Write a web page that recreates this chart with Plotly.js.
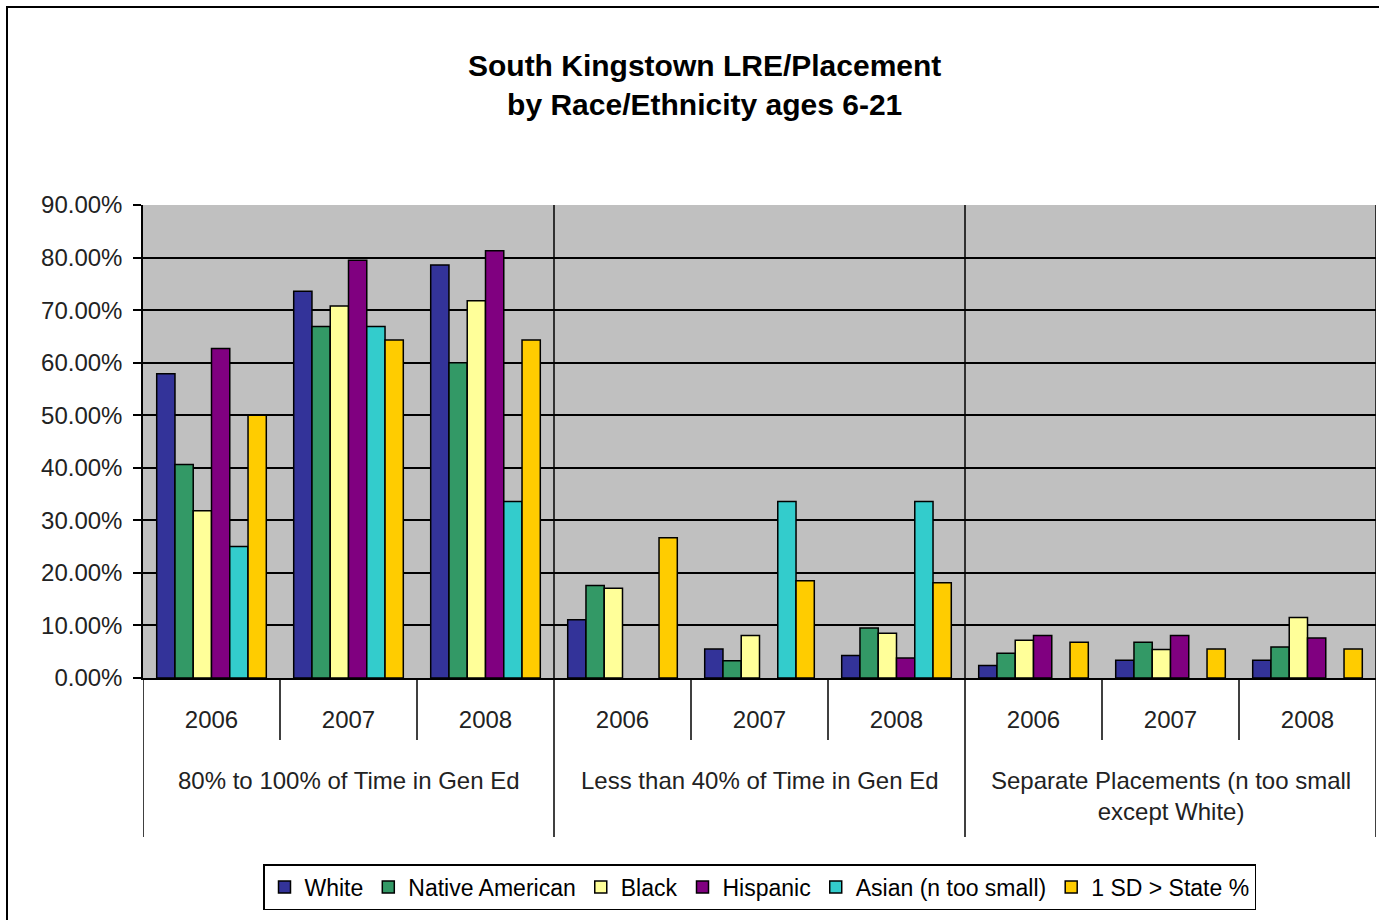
<!DOCTYPE html>
<html>
<head>
<meta charset="utf-8">
<script src="https://cdn.plot.ly/plotly-3.0.1.min.js"></script>
<style>
  html, body { margin: 0; padding: 0; background: #ffffff; }
  #chart { width: 1379px; height: 920px; }
</style>
</head>
<body>
<div id="chart"></div>
<script>
// ---- Data ----
const groups = [
  "80% to 100% of Time in Gen Ed",
  "Less than 40% of Time in Gen Ed",
  "Separate Placements (n too small<br>except White)"
];
const years = ["2006", "2007", "2008"];

const seriesNames = ["White", "Native American", "Black", "Hispanic", "Asian (n too small)", "1 SD > State %"];
const seriesColors = ["#333399", "#339966", "#FFFF99", "#800080", "#33CCCC", "#FFCC00"];

// values as fractions, ordered group-by-group, year-by-year
const white          = [0.579, 0.736, 0.786,  0.111, 0.055, 0.043,  0.024, 0.034, 0.034];
const nativeAmerican = [0.406, 0.669, 0.600,  0.176, 0.033, 0.095,  0.047, 0.068, 0.059];
const black          = [0.318, 0.708, 0.718,  0.171, 0.081, 0.085,  0.072, 0.054, 0.115];
const hispanic       = [0.627, 0.795, 0.813,  null,  null,  0.038,  0.081, 0.081, 0.076];
const asian          = [0.250, 0.669, 0.336,  null,  0.336, 0.336,  null,  null,  null ];
const stateSD        = [0.500, 0.643, 0.643,  0.267, 0.185, 0.181,  0.068, 0.055, 0.055];

const seriesValues = [white, nativeAmerican, black, hispanic, asian, stateSD];

const yTickVals = [0, 0.1, 0.2, 0.3, 0.4, 0.5, 0.6, 0.7, 0.8, 0.9];

// ---- Build ----
const FONT = "Liberation Sans, Arial, sans-serif";
const nCat = groups.length * years.length;
const xIdx = [];
const xTickText = [];
groups.forEach((g, gi) => years.forEach((y, yi) => { xIdx.push(gi * years.length + yi); xTickText.push(y); }));

const traces = seriesNames.map((name, i) => ({
  type: "bar",
  name: name,
  x: xIdx,
  y: seriesValues[i],
  marker: { color: seriesColors[i], line: { color: "#000000", width: 1.5 } },
  hovertemplate: "%{y:.2%}<extra>" + name + "</extra>"
}));

const shapes = [];
// full-height separators between groups inside plot area
for (let gi = 1; gi <= groups.length; gi++) {
  shapes.push({ type: "line", xref: "x", yref: "paper", x0: gi * years.length - 0.5, x1: gi * years.length - 0.5,
                y0: 0, y1: 1, line: { color: "#000000", width: 1.5 }, layer: "below" });
}
// long dividers below axis at group boundaries
for (let gi = 0; gi <= groups.length; gi++) {
  const xb = gi * years.length - 0.5;
  shapes.push({ type: "line", xref: "x", yref: "paper", x0: xb, x1: xb, y0: 0, y1: -0.336,
                line: { color: "#000000", width: 1.5 } });
}
// short dividers between years
groups.forEach((g, gi) => {
  for (let yi = 1; yi < years.length; yi++) {
    const xb = gi * years.length + yi - 0.5;
    shapes.push({ type: "line", xref: "x", yref: "paper", x0: xb, x1: xb, y0: 0, y1: -0.131,
                  line: { color: "#000000", width: 1.5 } });
  }
});
// outer chart frame
shapes.push({ type: "rect", xref: "paper", yref: "paper", x0: -0.1103, x1: 1.2, y0: -1, y1: 1.4186,
              line: { color: "#000000", width: 2 }, fillcolor: "rgba(0,0,0,0)" });

const annotations = groups.map((g, gi) => ({
  xref: "x", yref: "paper", x: gi * years.length + (years.length - 1) / 2, y: -0.183,
  yanchor: "top", xanchor: "center", showarrow: false, text: g,
  font: { family: FONT, size: 24, color: "#222222" }
}));

const layout = {
  width: 1379, height: 920, autosize: false,
  paper_bgcolor: "#ffffff", plot_bgcolor: "#C0C0C0",
  margin: { l: 143, r: 3, t: 205, b: 242 },
  title: {
    text: "<b>South Kingstown LRE/Placement<br>by Race/Ethnicity ages 6-21</b>",
    font: { family: FONT, size: 30, color: "#000000" },
    x: 0.511, xref: "container", xanchor: "center",
    y: 0.917, yref: "container", yanchor: "middle"
  },
  barmode: "group", bargap: 0.2, bargroupgap: 0,
  xaxis: {
    type: "linear", range: [-0.5, nCat - 0.5],
    tickmode: "array", tickvals: xIdx, ticktext: xTickText,
    ticks: "outside", ticklen: 19, tickcolor: "rgba(0,0,0,0)",
    tickfont: { family: FONT, size: 24, color: "#222222" },
    showgrid: false, zeroline: false, showline: true, linecolor: "#000000", linewidth: 1.5,
    fixedrange: true
  },
  yaxis: {
    range: [0, 0.9], tickmode: "array", tickvals: yTickVals, tickformat: ".2%",
    ticks: "outside", ticklen: 8, tickcolor: "#000000", tickwidth: 1.5,
    ticklabelstandoff: 6,
    tickfont: { family: FONT, size: 24, color: "#222222" },
    showgrid: true, gridcolor: "#000000", gridwidth: 1.5,
    zeroline: false, showline: true, linecolor: "#000000", linewidth: 1.5,
    fixedrange: true
  },
  legend: {
    orientation: "h", x: 0.5, xanchor: "center", y: -0.442, yanchor: "middle",
    bordercolor: "#000000", borderwidth: 1.5, bgcolor: "#ffffff",
    font: { family: FONT, size: 23, color: "#000000" },
    traceorder: "normal"
  },
  shapes: shapes,
  annotations: annotations,
  showlegend: true
};

Plotly.newPlot("chart", traces, layout, { displayModeBar: false, staticPlot: false });
</script>
</body>
</html>
